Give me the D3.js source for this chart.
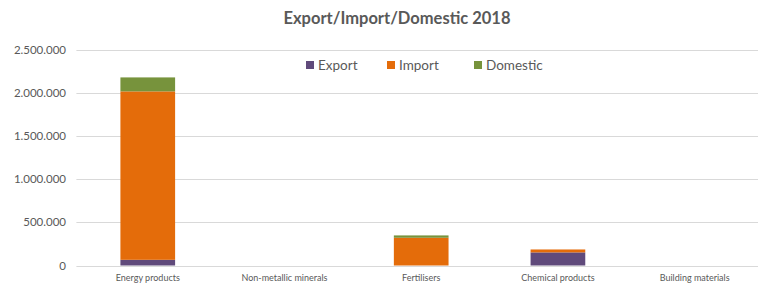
<!DOCTYPE html>
<html><head><meta charset="utf-8">
<script src="https://cdn.jsdelivr.net/npm/d3@7"></script>
<style>
html,body{margin:0;padding:0;background:#fff;}
svg{display:block;font-family:Lato,"Open Sans",sans-serif;}
</style></head>
<body><svg id="c" width="758" height="287"></svg>
<script>
const categories = ["Energy products","Non-metallic minerals","Fertilisers","Chemical products","Building materials"];
const exportVals   = [66000, 0, 0, 152000, 0];
const importVals   = [1954000, 0, 322000, 34000, 0];
const domesticVals = [162000, 0, 27000, 0, 0];
const seriesNames = ["Export","Import","Domestic"];
const colors = ["#604a7b","#e46c0a","#77933c"];
const yTicks = [0,500000,1000000,1500000,2000000,2500000];
const title = "Export/Import/Domestic 2018";

(function(){
const svg = d3.select("#c");
const pLeft = 79.4, pRight = 763, pTop = 50, pBottom = 265.5;
const x = d3.scaleBand().domain(categories).range([pLeft,pRight]).paddingInner(0.6).paddingOuter(0.3);
const y = d3.scaleLinear().domain([0,2500000]).range([pBottom,pTop]);
const loc = d3.formatLocale({decimal:",",thousands:".",grouping:[3],currency:["",""]});
const fmt = loc.format(",d");

svg.append("g").selectAll("line").data(yTicks).join("line")
  .attr("x1",pLeft-3).attr("x2",pRight)
  .attr("y1",d=>Math.round(y(d))+0.5).attr("y2",d=>Math.round(y(d))+0.5)
  .attr("stroke","#d9d9d9").attr("stroke-width",1);

svg.append("g").selectAll("text").data(yTicks).join("text")
  .attr("x",66).attr("y",d=>y(d)).attr("dy","0.35em")
  .attr("text-anchor","end").attr("font-size",11.5).attr("fill","#595959")
  .text(d=>fmt(d));

const rows = categories.map((c,i)=>({cat:c,Export:exportVals[i],Import:importVals[i],Domestic:domesticVals[i]}));
const stack = d3.stack().keys(seriesNames)(rows);
svg.append("g").selectAll("g").data(stack).join("g")
  .attr("fill",(d,i)=>colors[i])
  .selectAll("rect").data(d=>d).join("rect")
  .attr("x",d=>x(d.data.cat)).attr("width",x.bandwidth())
  .attr("y",d=>y(d[1])).attr("height",d=>Math.max(0,y(d[0])-y(d[1])));

svg.append("g").selectAll("text").data(categories).join("text")
  .attr("x",d=>x(d)+x.bandwidth()/2).attr("y",281)
  .attr("text-anchor","middle").attr("font-size",9).attr("fill","#595959")
  .text(d=>d);

svg.append("text").attr("x",397).attr("y",24).attr("text-anchor","middle")
  .attr("font-size",16.5).attr("font-weight","bold").attr("fill","#595959").text(title);

const legX = [306,387,474];
const lg = svg.append("g").selectAll("g").data(seriesNames).join("g")
  .attr("transform",(d,i)=>`translate(${legX[i]},65)`);
lg.append("rect").attr("x",0).attr("y",-4).attr("width",8).attr("height",8).attr("fill",(d,i)=>colors[i]);
lg.append("text").attr("x",12).attr("y",0).attr("dy","0.35em").attr("font-size",13.5).attr("fill","#595959").text(d=>d);
})();
</script></body></html>
